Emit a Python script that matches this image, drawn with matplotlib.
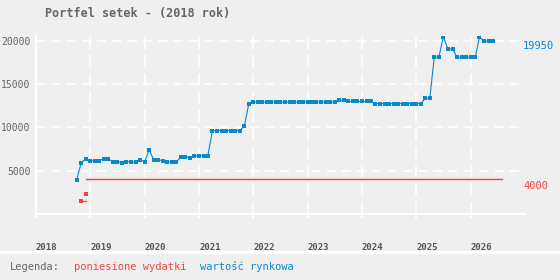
import pandas as pd
import matplotlib
matplotlib.use('Agg')
import matplotlib.pyplot as plt

# monthly market value of the portfolio, starting Oct 2018
market_value = [3950, 5920, 6380, 6150, 6150, 6150, 6380, 6380, 6030, 6030,
                5920, 6030, 6030, 5950, 6260, 6030, 7420, 6260, 6260, 6150,
                6030, 6030, 6030, 6530, 6610, 6500, 6730, 6730, 6730, 6730,
                9630, 9630, 9630, 9630, 9630, 9630, 9630, 10130, 12720, 12910,
                12910, 12910, 12910, 12910, 12910, 12910, 12910, 12910, 12910, 12910,
                12910, 12910, 12910, 12910, 12910, 12910, 12910, 12910, 13110, 13110,
                12990, 12990, 12990, 12990, 12990, 12990, 12750, 12750, 12750, 12750,
                12750, 12750, 12750, 12750, 12750, 12750, 12750, 13340, 13340, 18100,
                18100, 20450, 19060, 19060, 18100, 18100, 18100, 18100, 18100, 20450,
                19950, 19950, 19950]
dates = pd.date_range('2018-10-01', periods=len(market_value), freq='MS')

# costs incurred
cost_dates_early = pd.to_datetime(['2018-11-01', '2018-12-01'])
cost_early = [1500, 2300]
cost_start = pd.Timestamp('2018-12-01')
cost_end = pd.Timestamp('2026-08-01')
cost_total = 4000

years = list(range(2018, 2027))

BLUE = '#0a88cc'
RED = '#f04444'
GRAY = '#666666'
BG = '#efefef'

plt.rcParams['font.family'] = ['DejaVu Sans Mono']

fig = plt.figure(figsize=(5.6, 2.8), dpi=100, facecolor=BG)
ax = fig.add_axes([36/560, 1-214/280, (525-36)/560, (214-36)/280])
ax.set_facecolor(BG)

# grid
for yv in [5000, 10000, 15000, 20000]:
    ax.axhline(yv, color='white', lw=1.1, dashes=(6, 4), zorder=1)
for yr in years[1:]:
    ax.axvline(pd.Timestamp(f'{yr}-01-01'), color='white', lw=1.1, dashes=(8, 4), zorder=1)

# costs
ax.plot([cost_dates_early[0], cost_dates_early[1]], [cost_early[0], cost_early[0]],
        color=RED, lw=0.9, marker='s', ms=2.5, mew=0, markevery=[0], zorder=3)
ax.plot([cost_dates_early[1]], [cost_early[1]], color=RED, marker='s', ms=2.5, mew=0,
        ls='none', zorder=3)
ax.plot([cost_start, cost_end], [cost_total, cost_total], color=RED, lw=1.0, zorder=3)

# market value
ax.plot(dates, market_value, color=BLUE, lw=0.8, marker='s', ms=2.5, mew=0, zorder=4)

ax.set_xlim(pd.Timestamp('2018-01-01'), pd.Timestamp('2027-01-01'))
ax.set_ylim(0, 20550)

ax.set_yticks([5000, 10000, 15000, 20000])
ax.set_yticklabels(['5000', '10000', '15000', '20000'], color=GRAY, fontsize=7)
ax.set_xticks([pd.Timestamp(f'{y}-01-01') for y in years])
ax.set_xticklabels([str(y) for y in years], color='#555555', fontsize=6.5,
                   fontweight='bold', ha='left')
ax.tick_params(axis='y', length=0, pad=4)
ax.tick_params(axis='x', length=3, width=1.5, color='white', pad=18)

for side in ['top', 'right']:
    ax.spines[side].set_visible(False)
for side in ['left', 'bottom']:
    ax.spines[side].set_color('white')
    ax.spines[side].set_linewidth(1.5)

# end-of-line value labels
ax.text(0.996, 19950, '19950', color=BLUE, fontsize=7.5, va='top', ha='left',
        transform=ax.get_yaxis_transform())
ax.text(0.996, 3800, '4000', color=RED, fontsize=7.5, va='top', ha='left',
        transform=ax.get_yaxis_transform())

fig.text(45/560, 1-13/280, 'Portfel setek - (2018 rok)', color=GRAY, fontsize=8.5,
         fontweight='bold', va='center', ha='left')

# footer legend
fig.add_artist(plt.Line2D([0, 1], [1-251.5/280, 1-251.5/280], color='white', lw=2.5))
fig.text(10/560, 1-267/280, 'Legenda:', color=GRAY, fontsize=7.5, va='center')
fig.text(74/560, 1-267/280, 'poniesione wydatki', color=RED, fontsize=7.5, va='center')
fig.text(200/560, 1-267/280, 'wartość rynkowa', color=BLUE, fontsize=7.5, va='center')

fig.savefig('out.png', dpi=100, facecolor=BG)
